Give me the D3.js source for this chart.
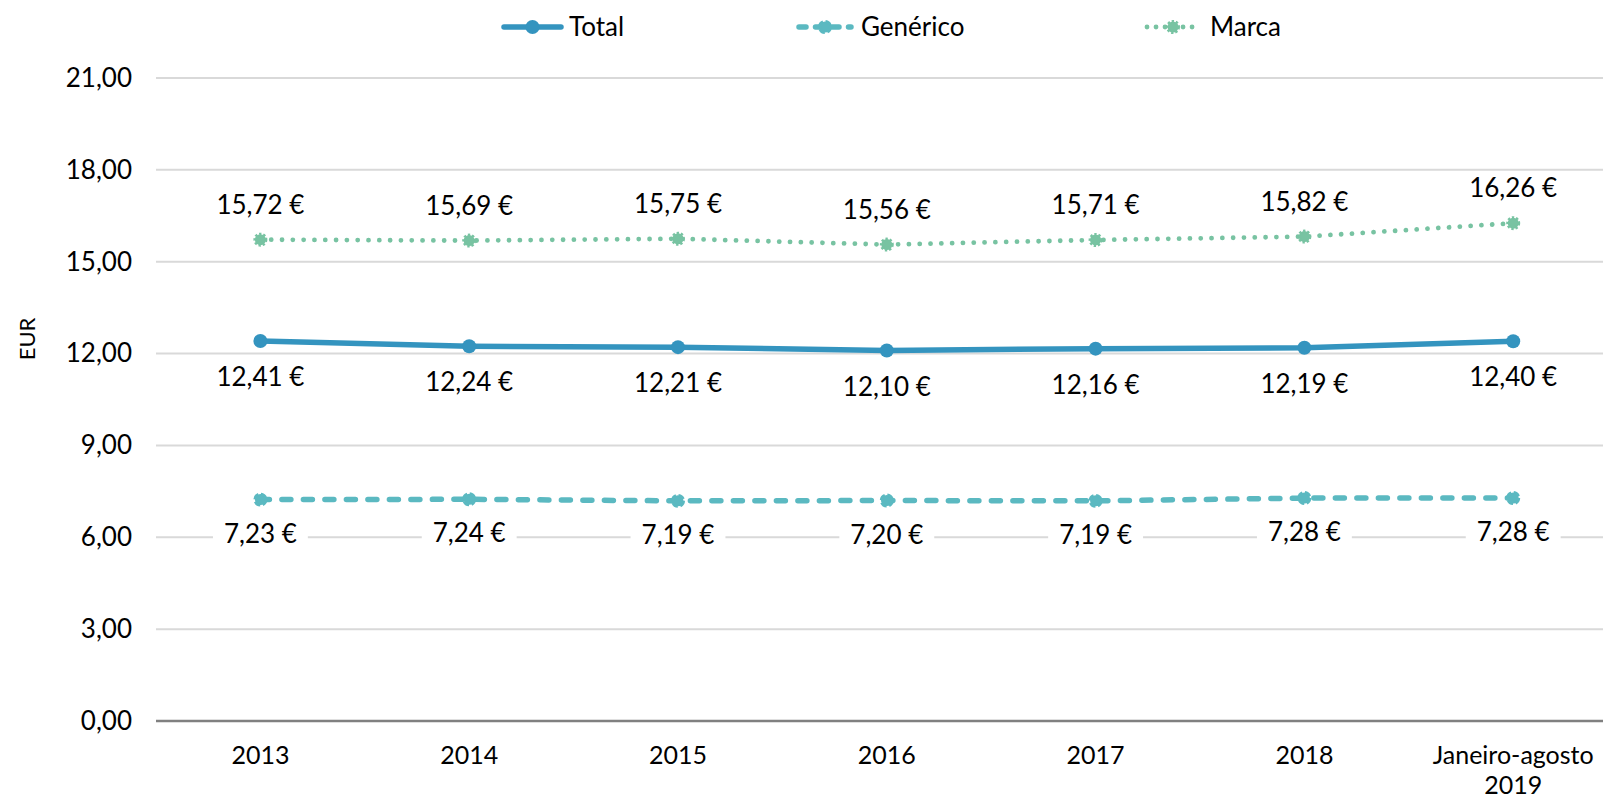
<!DOCTYPE html>
<html>
<head>
<meta charset="utf-8">
<script src="https://cdn.jsdelivr.net/npm/d3@7"></script>
<style>
  body { margin: 0; background: #fff; }
  svg { display: block; font-family: Lato, "Open Sans", sans-serif; }
</style>
</head>
<body>
<svg id="chart" width="1603" height="800"></svg>
<script>
// data
var categories = ["2013", "2014", "2015", "2016", "2017", "2018", "Janeiro-agosto 2019"];
var total = [12.41, 12.24, 12.21, 12.10, 12.16, 12.19, 12.40];
var generico = [7.23, 7.24, 7.19, 7.20, 7.19, 7.28, 7.28];
var marca = [15.72, 15.69, 15.75, 15.56, 15.71, 15.82, 16.26];
var yTicks = [0, 3, 6, 9, 12, 15, 18, 21];
var seriesNames = ["Total", "Genérico", "Marca"];

var svg = d3.select("#chart"),
    width = +svg.attr("width"),
    plotLeft = 156, plotTop = 78, plotBottom = 721,
    step = 208.8;

var x = d3.scalePoint().domain(categories).range([plotLeft + step / 2, plotLeft + step * 6.5]),
    y = d3.scaleLinear().domain([0, 21]).range([plotBottom, plotTop]);

var pt = d3.formatLocale({ decimal: ",", thousands: ".", grouping: [3], currency: ["", " €"] });
var fmt = pt.format(".2f");

var fontSize = 26;

// styles per series
var styles = {
    "Total":    { color: "#3494BF", width: 5.5, dash: null, cap: "round", data: total },
    "Genérico": { color: "#5BB9C1", width: 5.5, dash: "9 12.5", cap: "round", data: generico },
    "Marca":    { color: "#78C3A2", width: 4.8, dash: "0.01 10.8", cap: "round", data: marca }
};

// gridlines
var grid = svg.append("g").attr("class", "grid");
grid.selectAll("line")
    .data(yTicks.filter(function (d) { return d > 0; }))
    .enter().append("line")
    .attr("x1", plotLeft).attr("x2", width)
    .attr("y1", function (d) { return y(d); })
    .attr("y2", function (d) { return y(d); })
    .attr("stroke", "#D9D9D9")
    .attr("stroke-width", 2);

// y axis labels
var yAxis = d3.axisLeft(y)
    .tickValues(yTicks)
    .tickSize(0)
    .tickPadding(24)
    .tickFormat(function (d) { return fmt(d); });

svg.append("g")
    .attr("class", "axis axis--y")
    .attr("transform", "translate(" + plotLeft + ",0)")
    .call(yAxis)
    .call(function (g) { g.select(".domain").remove(); })
    .selectAll("text")
    .attr("font-size", fontSize)
    .attr("font-family", "Lato, sans-serif")
    .attr("fill", "#000");

// x axis baseline
svg.append("line")
    .attr("x1", plotLeft).attr("x2", width)
    .attr("y1", y(0)).attr("y2", y(0))
    .attr("stroke", "#808080")
    .attr("stroke-width", 2.5);

// x labels (last one wraps)
var xl = svg.append("g").attr("class", "axis axis--x");
categories.forEach(function (c) {
    var t = xl.append("text")
        .attr("text-anchor", "middle")
        .attr("font-size", 25)
        .attr("y", 764);
    var parts = c === "Janeiro-agosto 2019" ? ["Janeiro-agosto", "2019"] : [c];
    parts.forEach(function (p, i) {
        t.append("tspan")
            .attr("x", x(c))
            .attr("dy", i === 0 ? 0 : 30)
            .text(p);
    });
});

// EUR title
svg.append("text")
    .attr("transform", "translate(35,339) rotate(-90)")
    .attr("text-anchor", "middle")
    .attr("font-size", 22)
    .text("EUR");

// lines
var line = d3.line()
    .x(function (d, i) { return x(categories[i]); })
    .y(function (d) { return y(d); });

seriesNames.forEach(function (name) {
    var s = styles[name];
    svg.append("path")
        .datum(s.data)
        .attr("fill", "none")
        .attr("stroke", s.color)
        .attr("stroke-width", s.width)
        .attr("stroke-linecap", s.cap)
        .attr("stroke-dasharray", s.dash)
        .attr("d", line);
});

// markers
function marker(g, name, cx, cy) {
    var s = styles[name];
    if (name === "Total") {
        g.append("circle").attr("cx", cx).attr("cy", cy).attr("r", 7).attr("fill", s.color);
    } else if (name === "Genérico") {
        g.append("circle").attr("cx", cx).attr("cy", cy).attr("r", 5.5).attr("fill", s.color)
            .attr("stroke", s.color).attr("stroke-width", 3).attr("stroke-dasharray", "6 2.6");
    } else {
        g.append("circle").attr("cx", cx).attr("cy", cy).attr("r", 5.5).attr("fill", s.color)
            .attr("stroke", s.color).attr("stroke-width", 3).attr("stroke-dasharray", "2.2 1.8");
    }
}

var markers = svg.append("g");
seriesNames.forEach(function (name) {
    styles[name].data.forEach(function (v, i) {
        marker(markers, name, x(categories[i]), y(v));
    });
});

// data labels
var labels = svg.append("g").attr("font-size", fontSize).attr("text-anchor", "middle");
var offsets = { "Total": 45, "Genérico": 43, "Marca": -26 };
seriesNames.forEach(function (name) {
    styles[name].data.forEach(function (v, i) {
        var g = labels.append("g");
        var t = g.append("text")
            .attr("x", x(categories[i]))
            .attr("y", y(v) + offsets[name])
            .text(fmt(v) + " €");
        var b = t.node().getBBox();
        g.insert("rect", "text")
            .attr("x", b.x - 11).attr("y", b.y + 2)
            .attr("width", b.width + 22).attr("height", b.height - 4)
            .attr("fill", "#fff");
    });
});

// legend
var legendPos = [
    { name: "Total", x1: 501, x2: 564, tx: 569 },
    { name: "Genérico", x1: 796, x2: 854, tx: 861 },
    { name: "Marca", x1: 1144, x2: 1202, tx: 1210 }
];
var legend = svg.append("g").attr("class", "legend");
legendPos.forEach(function (d) {
    var s = styles[d.name];
    legend.append("line")
        .attr("x1", d.x1 + 3).attr("x2", d.x2 - 3)
        .attr("y1", 27).attr("y2", 27)
        .attr("stroke", s.color)
        .attr("stroke-width", s.width)
        .attr("stroke-linecap", s.cap)
        .attr("stroke-dasharray", d.name === "Genérico" ? "7 9.5" : (d.name === "Marca" ? "0.01 9" : null));
    marker(legend, d.name, (d.x1 + d.x2) / 2, 27);
    legend.append("text")
        .attr("x", d.tx)
        .attr("y", 36)
        .attr("font-size", fontSize)
        .text(d.name);
});
</script>
</body>
</html>
